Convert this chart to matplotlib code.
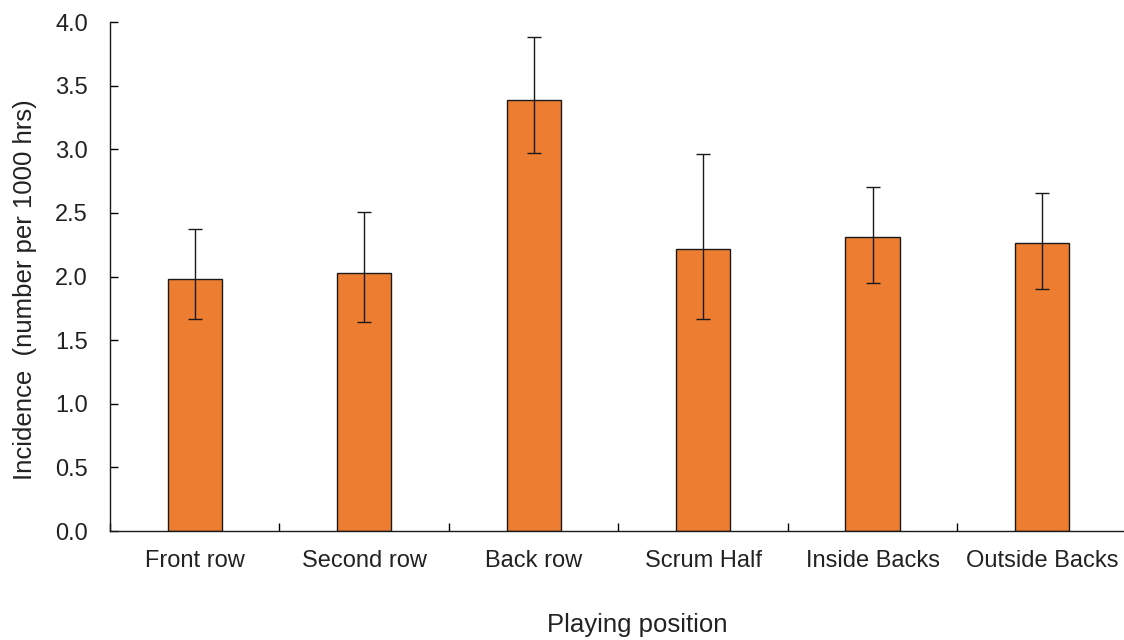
import numpy as np
import matplotlib.pyplot as plt

# incidence by playing position, with lower/upper limits
positions = ["Front row", "Second row", "Back row", "Scrum Half",
             "Inside Backs", "Outside Backs"]
incidence = [1.98, 2.03, 3.39, 2.22, 2.31, 2.26]
lower = [1.67, 1.64, 2.97, 1.67, 1.95, 1.90]
upper = [2.37, 2.51, 3.88, 2.96, 2.70, 2.66]

plt.rcParams['font.family'] = ['Liberation Sans', 'DejaVu Sans']
TXT = "#222222"

x = np.arange(len(positions))
inc = np.array(incidence)
yerr = [inc - np.array(lower), np.array(upper) - inc]

fig = plt.figure(figsize=(11.24, 6.4), dpi=100)
ax = fig.add_axes([0.0979, 0.1703, 0.9045, 0.7953])

ax.bar(x, inc, width=0.32, color="#ED7D31", edgecolor="#1a1a1a", linewidth=1.0,
       yerr=yerr, capsize=5,
       error_kw=dict(ecolor="#1a1a1a", elinewidth=1.0, capthick=1.0))

ax.set_xlim(-0.5, len(positions) - 0.5)
ax.set_ylim(0, 4.0)
yt = np.arange(0, 4.01, 0.5)
ax.set_yticks(yt)
ax.set_yticklabels([f"{v:.1f}" for v in yt], fontsize=17, color=TXT)

# category labels under the bars, tick marks between them
ax.set_xticks(np.arange(-0.5, len(positions) - 0.4, 1.0))
ax.set_xticklabels([])
ax.set_xticks(x, minor=True)
ax.set_xticklabels(positions, minor=True, fontsize=17, color=TXT)
ax.tick_params(axis="x", which="minor", length=0, pad=14)
ax.tick_params(axis="x", which="major", direction="in", length=6, width=1)
ax.tick_params(axis="y", direction="in", length=6, width=1, pad=16)

for s in ["top", "right"]:
    ax.spines[s].set_visible(False)
for s in ["left", "bottom"]:
    ax.spines[s].set_linewidth(1.0)
    ax.spines[s].set_color("#1a1a1a")

ax.set_ylabel("Incidence  (number per 1000 hrs)", fontsize=18.5, color=TXT)
ax.yaxis.set_label_coords(-0.072, 0.475)
ax.set_xlabel("Playing position", fontsize=18.5, color=TXT)
ax.xaxis.set_label_coords(0.519, -0.162)

fig.savefig("out.png", dpi=100)
